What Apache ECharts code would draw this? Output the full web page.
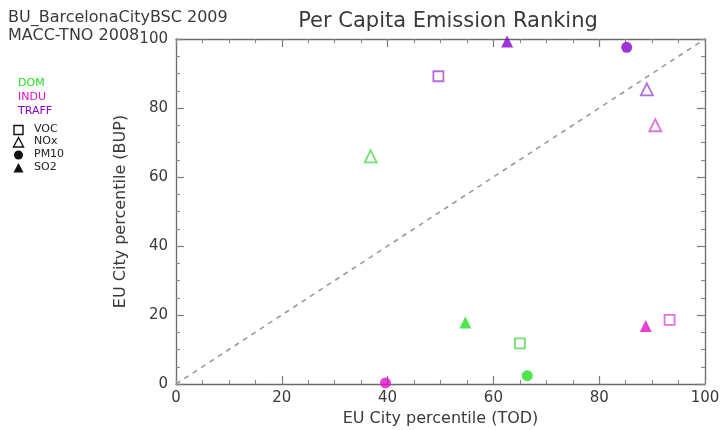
<!DOCTYPE html>
<html><head><meta charset="utf-8">
<script src="https://cdn.jsdelivr.net/npm/echarts@6/dist/echarts.min.js"></script>
<style>html,body{margin:0;padding:0;background:#fff}#c{width:720px;height:430px}</style>
</head><body><div id="c"></div>
<script>
const sources = ['DOM', 'INDU', 'TRAFF'];
const pollutants = ['VOC', 'NOx', 'PM10', 'SO2'];
// TOD (x) and BUP (y) percentiles, ordered as pollutants
const todDOM = [65, 36.8, 66.4, 54.7];
const bupDOM = [11.8, 66, 2.4, 17.8];
const todINDU = [93.3, 90.6, 39.6, 88.8];
const bupINDU = [18.6, 75, 0.3, 16.8];
const todTRAFF = [49.6, 89, 85.2, 62.6];
const bupTRAFF = [89.2, 85.4, 97.6, 99.3];
const xTicks = [0, 20, 40, 60, 80, 100];
const yTicks = [0, 20, 40, 60, 80, 100];
const oneToOne = [0, 100];

const colors = { DOM: '#22e022', INDU: '#e010d0', TRAFF: '#8800cc' };
const openColors = { DOM: '#50d850', INDU: '#d850d8', TRAFF: '#a048d8' };
const symbols = { VOC: 'rect', NOx: 'triangle', PM10: 'circle', SO2: 'triangle' };
const filled = { VOC: false, NOx: false, PM10: true, SO2: true };
const tod = { DOM: todDOM, INDU: todINDU, TRAFF: todTRAFF };
const bup = { DOM: bupDOM, INDU: bupINDU, TRAFF: bupTRAFF };

const series = [{
  type: 'line', data: oneToOne.map(v => [v, v]), symbol: 'none', silent: true,
  lineStyle: { color: '#9a9a9a', width: 1.6, type: [5, 5] }, z: 1
}];
sources.forEach(s => {
  pollutants.forEach((p, i) => {
    const f = filled[p];
    series.push({
      type: 'scatter', name: s + ' ' + p,
      data: [[tod[s][i], bup[s][i]]],
      symbol: symbols[p],
      symbolSize: p === 'VOC' ? 10 : (p === 'PM10' ? 11 : 12),
      itemStyle: f ? { color: colors[s] } : { color: '#fff', borderColor: openColors[s], borderWidth: 1.8 },
      z: 3
    });
  });
});

const font = 'DejaVu Sans';
function majorAxis(pos, extra) {
  return Object.assign({
    type: 'value', position: pos, min: 0, max: 100, interval: 20,
    axisLine: { show: true, onZero: false, lineStyle: { color: '#6a6a6a', width: 1.3 } },
    axisTick: { show: true, inside: true, length: 8, lineStyle: { color: '#777', width: 1.2 } },
    axisLabel: { show: false },
    splitLine: { show: false }
  }, extra || {});
}
function minorAxis(pos) {
  return {
    type: 'value', position: pos, min: 0, max: 100, interval: 5,
    axisLine: { show: false, onZero: false },
    axisTick: { show: true, inside: true, length: 4, lineStyle: { color: '#888', width: 1.1 } },
    axisLabel: { show: false },
    splitLine: { show: false }
  };
}

const legendGraphics = [];
const srcY = [78, 92, 106];
sources.forEach((s, i) => {
  legendGraphics.push({ type: 'text', left: 18, top: srcY[i],
    style: { text: s, fill: colors[s], font: '11px "' + font + '"' } });
});
const legSym = [
  { name: 'VOC', shape: 'rect' }, { name: 'NOx', shape: 'tri' },
  { name: 'PM10', shape: 'circle' }, { name: 'SO2', shape: 'trifill' }
];
const symY = [130, 142.5, 155, 168];
legSym.forEach((l, i) => {
  const cy = symY[i];
  let g;
  if (l.shape === 'rect') g = { type: 'rect', shape: { x: 14, y: cy - 4.5, width: 9, height: 9 }, style: { fill: 'none', stroke: '#111', lineWidth: 1.4 } };
  else if (l.shape === 'tri') g = { type: 'polygon', shape: { points: [[18.5, cy - 5], [13.5, cy + 4.5], [23.5, cy + 4.5]] }, style: { fill: 'none', stroke: '#111', lineWidth: 1.4 } };
  else if (l.shape === 'circle') g = { type: 'circle', shape: { cx: 18.5, cy: cy, r: 4.5 }, style: { fill: '#111' } };
  else g = { type: 'polygon', shape: { points: [[18.5, cy - 5], [13.5, cy + 4.5], [23.5, cy + 4.5]] }, style: { fill: '#111' } };
  legendGraphics.push(g);
  legendGraphics.push({ type: 'text', left: 34, top: cy - 6.5, style: { text: l.name, fill: '#222', font: '11px "' + font + '"' } });
});

const chart = echarts.init(document.getElementById('c'));
chart.setOption({
  animation: false,
  backgroundColor: '#fff',
  textStyle: { fontFamily: font },
  title: [{ text: 'Per Capita Emission Ranking', left: 443, textAlign: 'center', top: 6,
    textStyle: { fontSize: 21, fontWeight: 'normal', color: '#3a3a3a', fontFamily: font } }],
  grid: { left: 176, right: 15, top: 39, bottom: 46, outerBoundsMode: 'none', containLabel: false },
  xAxis: [
    majorAxis('bottom', {
      name: 'EU City percentile (TOD)', nameLocation: 'middle', nameGap: 19,
      nameTextStyle: { fontSize: 16, color: '#3a3a3a' },
      axisLabel: { show: true, fontSize: 15, color: '#3a3a3a', margin: 7, formatter: v => xTicks.includes(v) ? String(v) : '' } }),
    majorAxis('top'),
    minorAxis('bottom'),
    minorAxis('top')
  ],
  yAxis: [
    majorAxis('left', {
      name: 'EU City percentile (BUP)', nameLocation: 'middle', nameGap: 44,
      nameTextStyle: { fontSize: 16, color: '#3a3a3a' },
      axisLabel: { show: true, fontSize: 15, color: '#3a3a3a', margin: 8, formatter: v => yTicks.includes(v) ? String(v) : '' } }),
    majorAxis('right'),
    minorAxis('left'),
    minorAxis('right')
  ],
  graphic: [
    { type: 'text', left: 8, top: 10, style: { text: 'BU_BarcelonaCityBSC 2009', fill: '#3a3a3a', font: '16px "' + font + '"' } },
    { type: 'text', left: 8, top: 28, style: { text: 'MACC-TNO 2008', fill: '#3a3a3a', font: '16px "' + font + '"' } }
  ].concat(legendGraphics),
  series: series
});
</script></body></html>
